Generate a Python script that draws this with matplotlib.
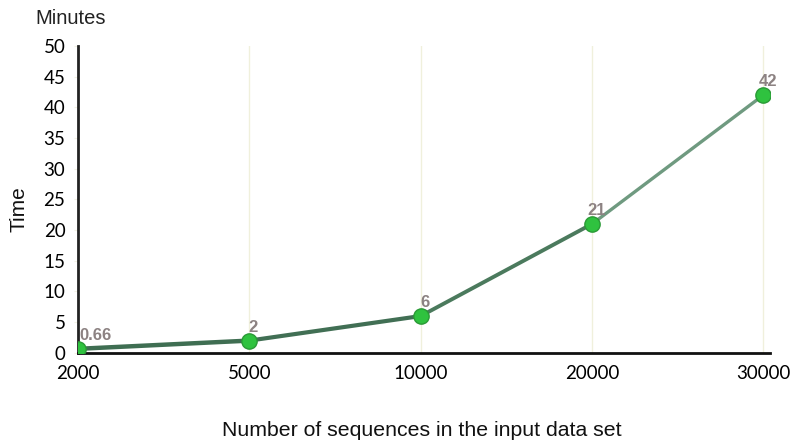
import matplotlib
matplotlib.use("Agg")
import matplotlib.pyplot as plt

categories = ["2000", "5000", "10000", "20000", "30000"]
minutes = [0.66, 2, 6, 21, 42]
labels = ["0.66", "2", "6", "21", "42"]
seg_colors = ["#3f6e52", "#416f54", "#4b7a5d", "#6f9a80"]
seg_widths = [3.2, 3.0, 2.8, 2.4]
yticks = list(range(0, 51, 5))

fig = plt.figure(figsize=(7.95, 4.45), dpi=100)
ax = fig.add_axes([0.098, 0.207, 0.871, 0.69])

x = list(range(len(categories)))
for i in range(len(x) - 1):
    ax.plot(x[i:i + 2], minutes[i:i + 2], color=seg_colors[i], lw=seg_widths[i],
            solid_capstyle="round", zorder=3)
ax.plot(x, minutes, linestyle="none", marker="o", markersize=11,
        markerfacecolor="#2fc23f", markeredgecolor="#2a9a36", markeredgewidth=1, zorder=4)
for xi, yi, lab in zip(x, minutes, labels):
    ax.annotate(lab, (xi, yi), xytext=(1 if xi == 0 else 3, 4), textcoords="offset points",
                ha="left" if xi == 0 else "center", va="bottom", fontsize=12,
                fontweight="bold", color="#8c8282", family="Liberation Sans", zorder=5)

ax.set_xlim(0, 4.04)
ax.set_ylim(0, 50)
ax.set_xticks(x)
ax.set_xticklabels(categories, fontsize=13.5, family="Lato")
ax.set_yticks(yticks)
ax.set_yticklabels([str(v) for v in yticks], fontsize=13.5, family="Lato")
ax.tick_params(axis="y", length=3, color="#f2f2e4", pad=6)
ax.tick_params(axis="x", length=0, pad=9)
ax.grid(axis="x", color="#f0f0dc", lw=1)
ax.set_axisbelow(True)
for s in ["top", "right"]:
    ax.spines[s].set_visible(False)
ax.spines["left"].set_linewidth(2)
ax.spines["bottom"].set_linewidth(2)
ax.spines["left"].set_color("#222222")
ax.spines["bottom"].set_color("#111111")

fig.text(0.044, 0.958, "Minutes", fontsize=14.5, family="Liberation Sans", color="#222222", va="center")
fig.text(0.024, 0.53, "Time", fontsize=15, family="Liberation Sans", color="#111111",
         rotation=90, va="center", ha="center")
fig.text(0.53, 0.033, "Number of sequences in the input data set", fontsize=15.3,
         family="Liberation Sans", color="#111111", ha="center", va="center")

fig.savefig("out.png", dpi=100)
